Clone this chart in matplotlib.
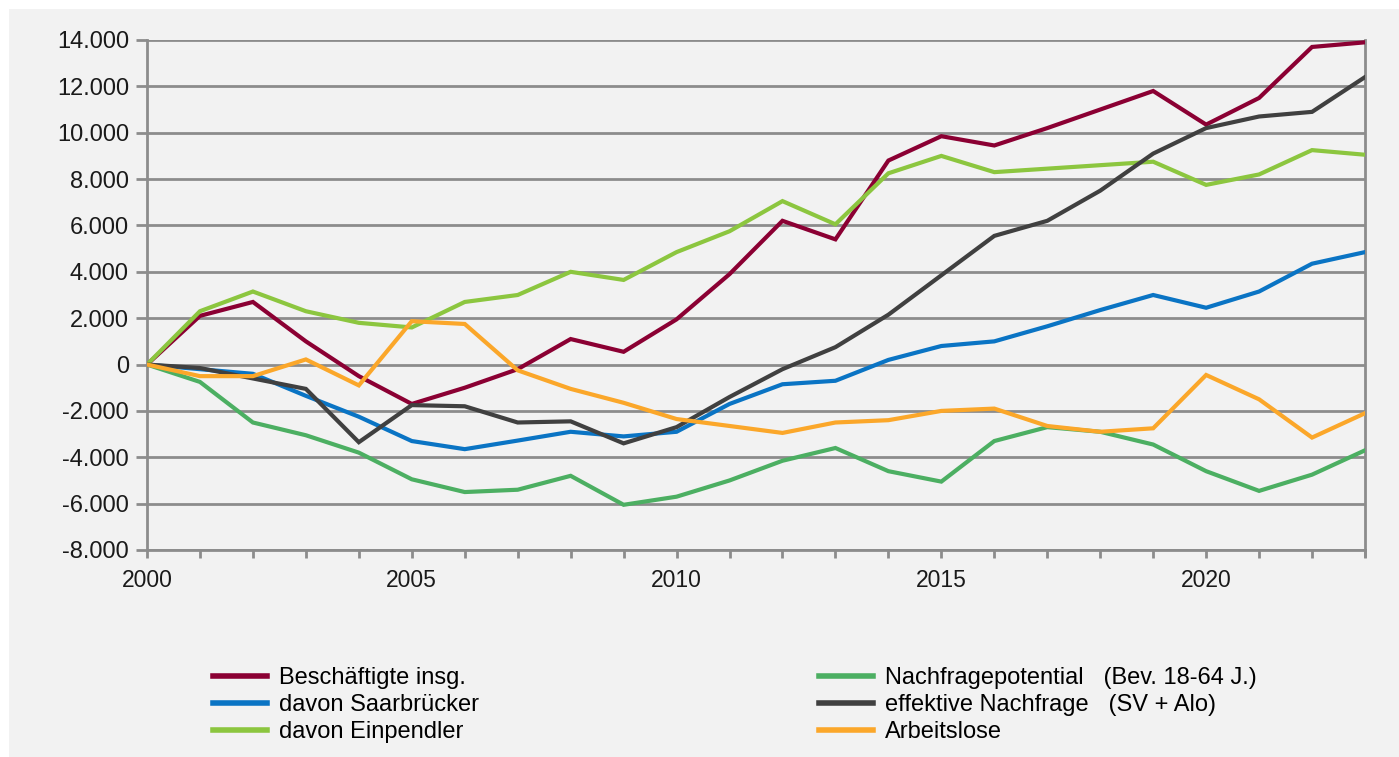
import numpy as np
import matplotlib
matplotlib.use("Agg")
import matplotlib.pyplot as plt
from matplotlib.patches import Rectangle
from matplotlib.lines import Line2D
from matplotlib.ticker import FuncFormatter

plt.rcParams['font.family'] = ['Liberation Sans', 'DejaVu Sans']

jahre = list(range(2000, 2024))

beschaeftigte = [0, 2100, 2700, 1000, -500, -1700, -1000, -200, 1100, 550, 1950,
                 3900, 6200, 5400, 8800, 9850, 9450, 10200, 11000, 11800, 10350,
                 11500, 13700, 13900]
saarbruecker = [0, -200, -400, -1350, -2250, -3300, -3650, -3280, -2900, -3100, -2900,
                -1700, -850, -700, 200, 800, 1000, 1650, 2350, 3000, 2450,
                3150, 4350, 4850]
einpendler = [0, 2300, 3150, 2300, 1800, 1600, 2700, 3000, 4000, 3650, 4850,
              5750, 7050, 6050, 8250, 9000, 8300, 8450, 8600, 8750, 7750,
              8200, 9250, 9050]
nachfragepotential = [0, -750, -2500, -3050, -3800, -4950, -5500, -5400, -4800, -6050, -5700,
                      -5000, -4150, -3600, -4600, -5050, -3300, -2700, -2900, -3450, -4600,
                      -5450, -4750, -3700]
eff_nachfrage = [0, -150, -600, -1050, -3350, -1750, -1800, -2500, -2450, -3400, -2700,
                 -1400, -200, 750, 2150, 3850, 5550, 6200, 7500, 9100, 10200,
                 10700, 10900, 12400]
arbeitslose = [0, -500, -500, 220, -900, 1870, 1750, -250, -1050, -1650, -2350,
               -2650, -2950, -2500, -2400, -2000, -1900, -2650, -2900, -2750, -450,
               -1500, -3150, -2100]

labels_links = ["Beschäftigte insg.", "davon Saarbrücker", "davon Einpendler"]
labels_rechts = ["Nachfragepotential   (Bev. 18-64 J.)", "effektive Nachfrage   (SV + Alo)",
                 "Arbeitslose"]

farben = ["#8b0033", "#0a74c4", "#8cc63f", "#4caf62", "#404040", "#fba72a"]
reihen = [beschaeftigte, saarbruecker, einpendler, nachfragepotential, eff_nachfrage, arbeitslose]

fig = plt.figure(figsize=(13.99, 7.57), dpi=100, facecolor="white")
fig.patches.append(Rectangle((9 / 1399, 0), 1, 1 - 9 / 757, transform=fig.transFigure,
                             facecolor="#f2f2f2", edgecolor="none", zorder=-10))

ax = fig.add_axes([147 / 1399, 1 - 550 / 757, (1365 - 147) / 1399, (550 - 40) / 757])
ax.set_facecolor("none")

grau = "#8c8c8c"
for y in range(-8000, 14001, 2000):
    ax.axhline(y, color=grau, lw=2, zorder=1)

for werte, farbe in zip(reihen, farben):
    ax.plot(jahre, werte, color=farbe, lw=3, zorder=3, solid_joinstyle="miter")

ax.set_xlim(2000, 2023)
ax.set_ylim(-8000, 14000)
ax.set_yticks(range(-8000, 14001, 2000))
ax.yaxis.set_major_formatter(FuncFormatter(lambda v, p: f"{int(v):,}".replace(",", ".")))
ax.set_xticks(jahre)
ax.set_xticklabels([str(j) if j % 5 == 0 else "" for j in jahre])

for s in ["left", "right", "bottom"]:
    ax.spines[s].set_color(grau)
    ax.spines[s].set_linewidth(2)
ax.spines["top"].set_visible(False)
ax.tick_params(axis="y", length=8, width=2, color=grau, pad=5, labelsize=17, labelcolor="#1a1a1a")
ax.tick_params(axis="x", length=6, width=2, color=grau, pad=8, labelsize=16.5, labelcolor="#1a1a1a")
# Tick am rechten Rand
ax.plot([2023, 2023], [-8000, -8000 - 6 * 22000 / 510], color=grau, lw=2, clip_on=False)

handles = [Line2D([0], [0], color=f, lw=4) for f in farben]
leg_kw = dict(frameon=False, fontsize=17, handlelength=2.3, handletextpad=0.5,
              labelspacing=0.22, borderaxespad=0, borderpad=0)
leg1 = fig.legend(handles[:3], labels_links, loc="upper left",
                  bbox_to_anchor=(213 / 1399, 1 - 667 / 757), **leg_kw)
leg2 = fig.legend(handles[3:], labels_rechts, loc="upper left",
                  bbox_to_anchor=(819 / 1399, 1 - 667 / 757), **leg_kw)

fig.savefig("out.png", dpi=100, facecolor=fig.get_facecolor())
